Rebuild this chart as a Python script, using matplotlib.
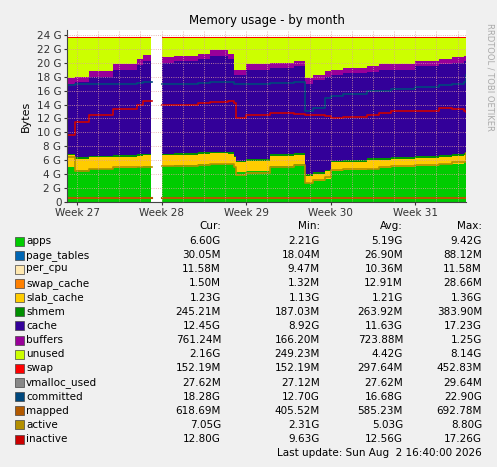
import numpy as np
import matplotlib
matplotlib.use("Agg")
import matplotlib.pyplot as plt

# days since start of week 27 (NaN row = data gap)
days = [-0.8, -0.2, 1, 3, 5, 5.5, 6.1, 6.2, 7.0, 8, 10, 11, 12.5, 13.0, 13.2, 14, 16, 18,
        18.9, 19.5, 20.5, 21, 22, 24, 25, 26, 28, 30, 31, 32, 32.2]
nan = np.nan
apps = [5.0, 4.6, 4.8, 4.9, 5.0, 5.1, 5.1, nan, 5.2, 5.3, 5.4, 5.5, 5.5, 5.0, 4.3, 4.5, 5.2, 5.4,
        2.8, 3.0, 3.3, 4.5, 4.6, 4.8, 4.9, 5.0, 5.2, 5.4, 5.5, 5.7, 5.7]
slab_band = [1.7, 1.6, 1.6, 1.6, 1.6, 1.6, 1.6, nan, 1.5, 1.5, 1.5, 1.5, 1.4, 1.4, 1.4, 1.4, 1.4, 1.4,
             1.0, 1.0, 1.1, 1.2, 1.2, 1.2, 1.2, 1.2, 1.1, 1.1, 1.1, 1.1, 1.5]
cache_top = [17.0, 17.2, 18.0, 19.0, 19.7, 20.3, 20.3, nan, 20.0, 20.2, 20.5, 21.0, 20.5, 18.2, 18.2, 19.0, 19.2, 19.5,
             17.0, 17.5, 18.0, 18.2, 18.5, 18.7, 19.0, 19.0, 19.5, 19.8, 20.0, 20.2, 20.2]
committed = [16.8, 16.9, 17.0, 17.0, 17.1, 17.2, 17.2, nan, 17.0, 17.0, 17.1, 17.3, 17.3, 17.0, 17.0, 17.0, 17.1, 17.2,
             13.0, 13.5, 15.0, 15.2, 15.5, 16.0, 16.0, 16.2, 16.5, 16.8, 17.0, 17.2, 18.3]
inactive = [9.6, 11.5, 12.5, 13.3, 14.0, 14.5, 14.5, nan, 14.0, 14.0, 14.2, 14.4, 14.5, 14.2, 12.0, 12.5, 12.8, 12.7,
            12.5, 12.5, 12.3, 12.0, 12.2, 12.5, 12.8, 13.0, 13.0, 13.5, 13.3, 13.0, 12.9]
active = [6.5, 4.5, 4.8, 5.0, 5.0, 5.0, 5.0, nan, 5.1, 5.2, 5.3, 5.4, 5.5, 5.0, 3.9, 4.2, 5.0, 5.3,
          2.8, 3.1, 3.6, 4.6, 4.7, 4.8, 5.0, 5.1, 5.3, 5.5, 5.7, 5.8, 7.0]
buffers = 0.8
shmem = 0.25
mapped = 0.62
swap = 0.15
total_ram = 23.6

week_labels = ["Week 27", "Week 28", "Week 29", "Week 30", "Week 31"]
week_days = [0, 7, 14, 21, 28]

legend_names = ["apps", "page_tables", "per_cpu", "swap_cache", "slab_cache", "shmem",
                "cache", "buffers", "unused", "swap", "vmalloc_used", "committed",
                "mapped", "active", "inactive"]
legend_colors = ["#00cc00", "#0066b3", "#ffe8b0", "#ff8000", "#ffcc00", "#008f00",
                 "#330099", "#990099", "#ccff00", "#ff0000", "#888888", "#00487d",
                 "#b35a00", "#b38f00", "#cc0000"]
cur = ["6.60G", "30.05M", "11.58M", "1.50M", "1.23G", "245.21M", "12.45G", "761.24M",
       "2.16G", "152.19M", "27.62M", "18.28G", "618.69M", "7.05G", "12.80G"]
mins = ["2.21G", "18.04M", "9.47M", "1.32M", "1.13G", "187.03M", "8.92G", "166.20M",
        "249.23M", "152.19M", "27.12M", "12.70G", "405.52M", "2.31G", "9.63G"]
avgs = ["5.19G", "26.90M", "10.36M", "12.91M", "1.21G", "263.92M", "11.63G", "723.88M",
        "4.42G", "297.64M", "27.62M", "16.68G", "585.23M", "5.03G", "12.56G"]
maxs = ["9.42G", "88.12M", "11.58M", "28.66M", "1.36G", "383.90M", "17.23G", "1.25G",
        "8.14G", "452.83M", "29.64M", "22.90G", "692.78M", "8.80G", "17.26G"]

W, H = 497, 467
fig = plt.figure(figsize=(W / 100, H / 100), dpi=100, facecolor="#f0f0f0")
ax = fig.add_axes([67 / W, 1 - 202 / H, 399 / W, 172 / H])
ax.set_facecolor("white")

x = np.array(days)
a = np.array(apps)
s = np.array(slab_band)
ct = np.array(cache_top)
base = a + s
shm_top = base + shmem
buf_top = ct + buffers
unused_top = np.where(np.isnan(a), nan, total_ram)
swap_top = unused_top + swap

bands = [(a * 0, a, "#00cc00"),
         (a, base, "#ffcc00"),
         (base, shm_top, "#008f00"),
         (shm_top, ct, "#330099"),
         (ct, buf_top, "#990099"),
         (buf_top, unused_top, "#ccff00"),
         (unused_top, swap_top, "#ff0000")]
for lo, hi, c in bands:
    ax.fill_between(x, lo, hi, step="post", color=c, lw=0)

ax.step(x, committed, where="post", color="#00487d", lw=1.2)
ax.step(x, inactive, where="post", color="#cc0000", lw=1.2)
ax.step(x, active, where="post", color="#b38f00", lw=1.2)
ax.step(x, np.where(np.isnan(a), nan, mapped), where="post", color="#b35a00", lw=1.5)

ax.set_xlim(-0.83, 32.2)
ax.set_ylim(0, 24.7)
ax.set_yticks(range(0, 25, 2))
ax.set_yticklabels(["0"] + [f"{v} G" for v in range(2, 25, 2)], fontsize=7.5)
ax.set_xticks(week_days)
ax.set_xticklabels(week_labels, fontsize=7.5)
ax.set_xticks(np.arange(0, 32.2, 1.75), minor=True)
ax.grid(True, which="both", color="#e0a0a0", ls=":", lw=0.6)
ax.set_axisbelow(False)
ax.tick_params(length=2, pad=2, colors="#333333")
ax.tick_params(which="minor", length=0)
for sp in ["top", "right"]:
    ax.spines[sp].set_visible(False)
ax.spines["left"].set_color("#444444")
ax.spines["bottom"].set_color("#444444")
ax.set_ylabel("Bytes", fontsize=8)
ax.set_title("Memory usage - by month", fontsize=8.5, pad=4)

fig.text(490 / W, 0.95, "RRDTOOL / TOBI OETIKER", rotation=270, fontsize=6,
         color="#aaaaaa", ha="center", va="top")

fs = 7.5
col_x = [221, 320, 403, 482]
for cx, head in zip(col_x, ["Cur:", "Min:", "Avg:", "Max:"]):
    fig.text(cx / W, 1 - 226 / H, head, ha="right", va="center", fontsize=fs)
for i, name in enumerate(legend_names):
    yy = 1 - (241 + i * 14.15) / H
    fig.patches.append(plt.Rectangle((15 / W, yy - 4.5 / H), 9 / W, 9 / H,
                                     transform=fig.transFigure, facecolor=legend_colors[i],
                                     edgecolor="#444444", lw=0.5))
    fig.text(26 / W, yy, name, va="center", fontsize=fs)
    for cx, vals in zip(col_x, [cur, mins, avgs, maxs]):
        fig.text(cx / W, yy, vals[i], ha="right", va="center", fontsize=fs)

fig.text(482 / W, 1 - 453 / H, "Last update: Sun Aug  2 16:40:00 2026",
         ha="right", va="center", fontsize=fs)

fig.savefig("out.png", dpi=100, facecolor=fig.get_facecolor())
